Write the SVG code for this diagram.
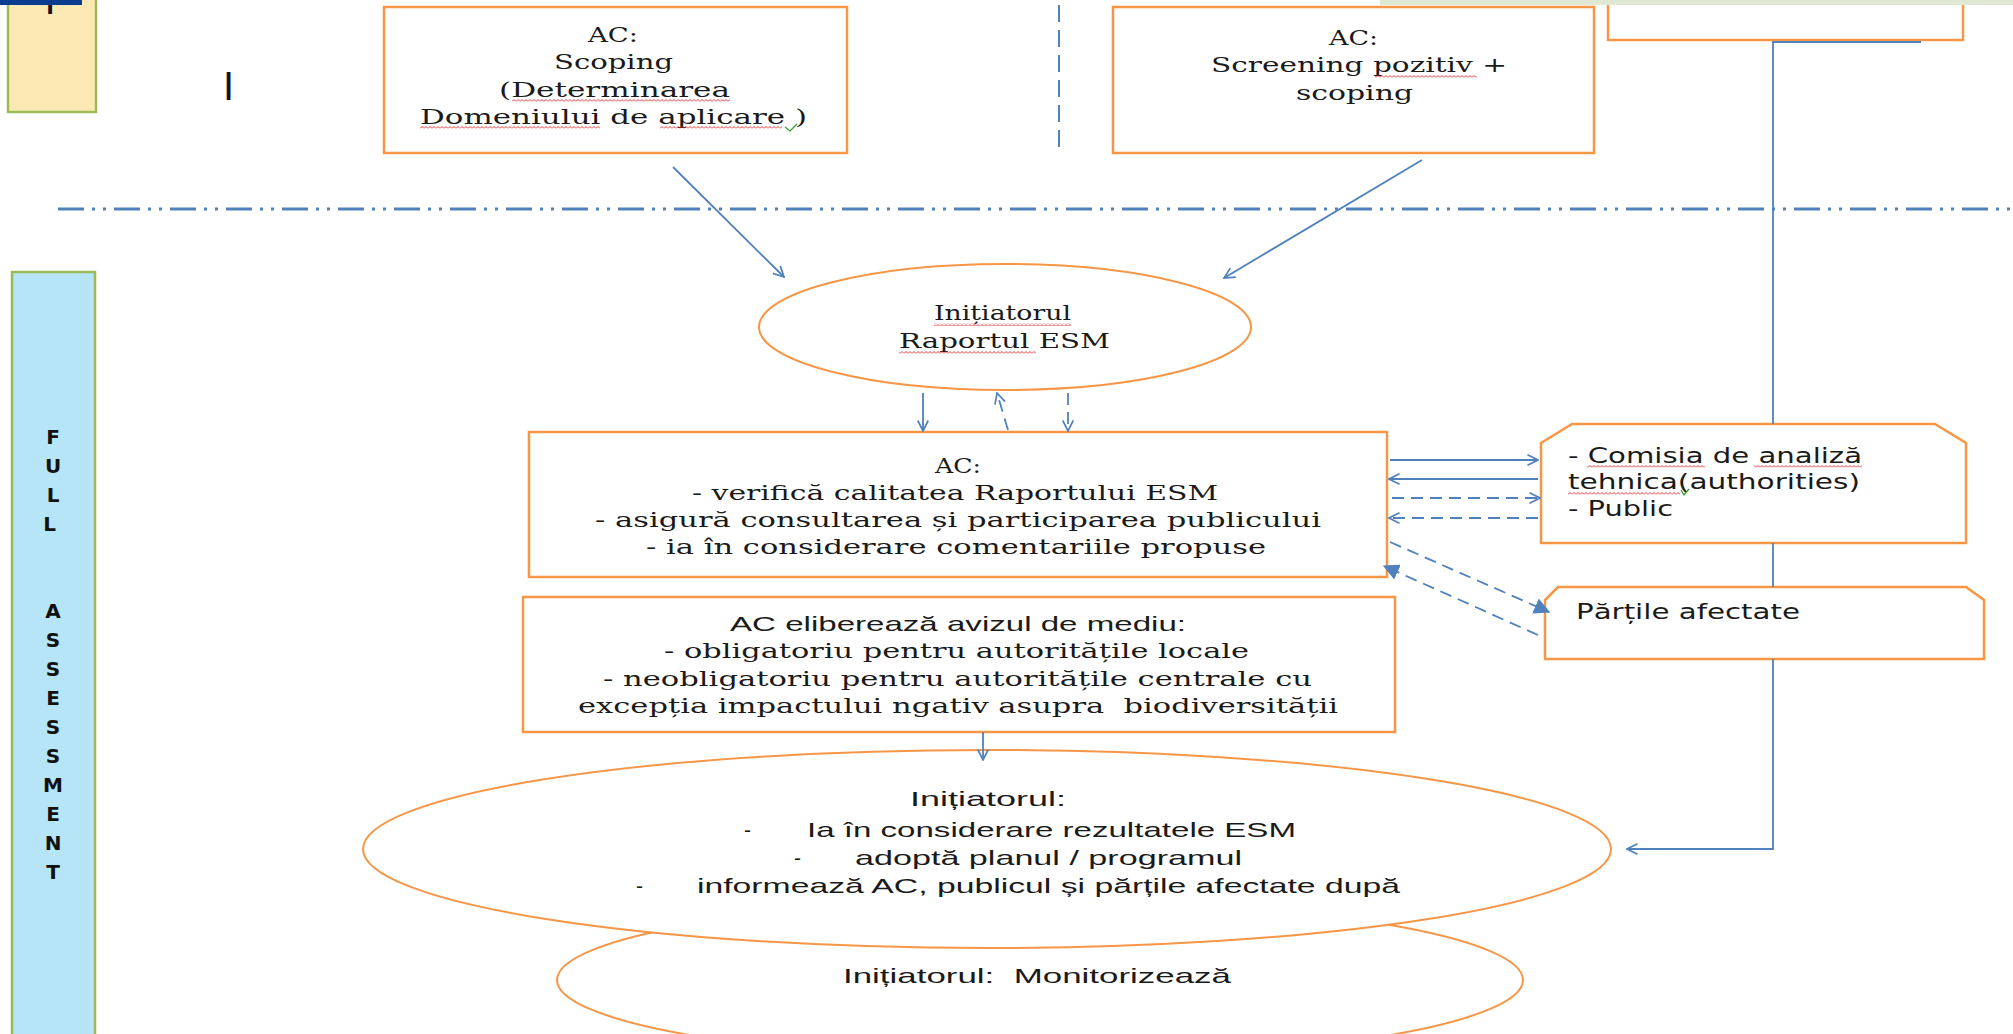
<svg xmlns="http://www.w3.org/2000/svg" width="2013" height="1034" viewBox="0 0 2013 1034">
<style>
.box{fill:#fff;stroke:#f79646;stroke-width:2.5}
.ell{fill:#fff;stroke:#f79646;stroke-width:2}
.ser{font-family:"DejaVu Serif","Liberation Serif",serif;font-size:21px;fill:#1a1a1a}
.sans{font-family:"Liberation Sans",Arial,sans-serif;font-size:21px;fill:#1a1a1a}
.ver{font-family:"DejaVu Sans",Verdana,sans-serif;font-size:21px;fill:#1a1a1a}
.side{font-family:"DejaVu Sans",Verdana,sans-serif;font-size:20px;font-weight:bold;fill:#111;text-anchor:middle}
.c{stroke:#4f81bd;stroke-width:1.8;fill:none}
.d{stroke-dasharray:12 7}
.sq{fill:url(#sq)}
.pre{white-space:pre}
</style>
<defs>
<marker id="open" viewBox="0 0 12 12" refX="11" refY="6" markerWidth="7" markerHeight="7" orient="auto" markerUnits="strokeWidth">
<path d="M1,1 L11,6 L1,11" fill="none" stroke="#4f81bd" stroke-width="1.6"/>
</marker>
<marker id="fill" viewBox="0 0 12 12" refX="11" refY="6" markerWidth="9" markerHeight="9" orient="auto" markerUnits="strokeWidth">
<path d="M0,0 L12,6 L0,12 Z" fill="#4f81bd"/>
</marker>
<pattern id="sq" width="4" height="3" patternUnits="userSpaceOnUse">
<path d="M0,2.5 L2,0.5 L4,2.5" fill="none" stroke="#e02020" stroke-width="0.9"/>
</pattern>
</defs>
<rect width="2013" height="1034" fill="#fff"/>

<!-- background decorations -->
<rect x="1380" y="0" width="633" height="5" fill="#dfe8d2"/>
<line x1="58" y1="209" x2="2013" y2="209" stroke="#4f81bd" stroke-width="3" stroke-dasharray="26 8 3 8 3 8"/>
<line x1="1059" y1="5" x2="1059" y2="150" stroke="#4f81bd" stroke-width="2" stroke-dasharray="17 8"/>

<g id="phase-top">
<rect x="8" y="-5" width="88" height="117" fill="#fde9b3" stroke="#9bbb59" stroke-width="2.5"/>
<text x="50" y="14" class="side" font-size="16">T</text>
<rect x="0" y="0" width="82" height="5" fill="#0b3d91"/>
</g>
<text x="228.5" y="100" font-family="Liberation Sans, Arial, sans-serif" font-size="40" text-anchor="middle" fill="#111">I</text>

<g id="phase-full">
<rect x="12" y="272" width="83" height="770" fill="#b5e5f7" stroke="#9bbb59" stroke-width="2.5"/>
<text class="side">
<tspan x="53" y="444">F</tspan><tspan x="53" y="473">U</tspan><tspan x="53" y="502">L</tspan><tspan x="53" y="531">L</tspan>
<tspan x="53" y="618">A</tspan><tspan x="53" y="647">S</tspan><tspan x="53" y="676">S</tspan><tspan x="53" y="705">E</tspan><tspan x="53" y="734">S</tspan><tspan x="53" y="763">S</tspan><tspan x="53" y="792">M</tspan><tspan x="53" y="821">E</tspan><tspan x="53" y="850">N</tspan><tspan x="53" y="879">T</tspan>
</text>
</g>

<g id="scoping">
<rect class="box" x="384" y="7" width="463" height="146"/>
<text class="ser" x="588" y="42" textLength="50" lengthAdjust="spacingAndGlyphs">AC:</text>
<text class="ser" x="554" y="69" textLength="119" lengthAdjust="spacingAndGlyphs">Scoping</text>
<text class="ser" x="499" y="97" textLength="231" lengthAdjust="spacingAndGlyphs">(Determinarea</text>
<text class="ser" x="420" y="124" textLength="387" lengthAdjust="spacingAndGlyphs">Domeniului de aplicare )</text>
<rect class="sq" x="512" y="99" width="218" height="3"/>
<rect class="sq" x="420" y="126" width="180" height="3"/>
<rect class="sq" x="660" y="126" width="122" height="3"/>
<path d="M785,127 L790,131 L797,124" fill="none" stroke="#2a9a2a" stroke-width="1.2"/>
</g>

<g id="screening">
<rect class="box" x="1113" y="7" width="481" height="146"/>
<text class="ser" x="1329" y="45" textLength="49" lengthAdjust="spacingAndGlyphs">AC:</text>
<text class="ser" x="1211" y="72" textLength="296" lengthAdjust="spacingAndGlyphs">Screening pozitiv +</text>
<text class="ser" x="1296" y="100" textLength="117" lengthAdjust="spacingAndGlyphs">scoping</text>
<rect class="sq" x="1375" y="75" width="102" height="3"/>
</g>

<g id="top-right">
<rect class="box" x="1608" y="-5" width="355" height="45"/>
</g>
<rect x="1600" y="0" width="413" height="5" fill="#dfe8d2"/>

<g id="initiator-raport">
<ellipse class="ell" cx="1005" cy="327" rx="246" ry="63"/>
<text class="ser" x="934" y="320" textLength="137" lengthAdjust="spacingAndGlyphs">Inițiatorul</text>
<text class="ser" x="899" y="348" textLength="211" lengthAdjust="spacingAndGlyphs">Raportul ESM</text>
<rect class="sq" x="934" y="323" width="137" height="3"/>
<rect class="sq" x="899" y="351" width="137" height="3"/>
</g>

<g id="ac-verifica">
<rect class="box" x="529" y="432" width="858" height="145"/>
<text class="ser" x="935" y="473" textLength="46" lengthAdjust="spacingAndGlyphs">AC:</text>
<text class="ser" x="692" y="500" textLength="526" lengthAdjust="spacingAndGlyphs">- verifică calitatea Raportului ESM</text>
<text class="ser" x="595" y="527" textLength="726" lengthAdjust="spacingAndGlyphs">- asigură consultarea și participarea publicului</text>
<text class="ser" x="646" y="554" textLength="620" lengthAdjust="spacingAndGlyphs">- ia în considerare comentariile propuse</text>
</g>

<g id="ac-aviz">
<rect class="box" x="523" y="597" width="872" height="135"/>
<text class="sans" x="730" y="631" textLength="456" lengthAdjust="spacingAndGlyphs">AC eliberează avizul de mediu:</text>
<text class="ser" x="664" y="658" textLength="585" lengthAdjust="spacingAndGlyphs">- obligatoriu pentru autoritățile locale</text>
<text class="ser" x="603" y="686" textLength="709" lengthAdjust="spacingAndGlyphs">- neobligatoriu pentru autoritățile centrale cu</text>
<text class="ser pre" x="578" y="713" textLength="760" lengthAdjust="spacingAndGlyphs">excepția impactului ngativ asupra  biodiversității</text>
</g>

<g id="comisia">
<path class="box" d="M1541,443 L1572,424 L1935,424 L1966,443 L1966,543 L1541,543 Z"/>
<text class="ver" x="1568" y="463" textLength="294" lengthAdjust="spacingAndGlyphs">- Comisia de analiză</text>
<text class="ver" x="1568" y="489" textLength="292" lengthAdjust="spacingAndGlyphs">tehnica(authorities)</text>
<text class="ver" x="1568" y="516" textLength="105" lengthAdjust="spacingAndGlyphs">- Public</text>
<rect class="sq" x="1587" y="465" width="118" height="3"/>
<rect class="sq" x="1754" y="465" width="108" height="3"/>
<rect class="sq" x="1568" y="492" width="112" height="3"/>
<path d="M1681,490 L1684,495 L1689,489" fill="none" stroke="#2a9a2a" stroke-width="1.2"/>
</g>

<g id="partile">
<path class="box" d="M1545,600 L1558,587 L1966,587 L1984,600 L1984,659 L1545,659 Z"/>
<text class="ver" x="1576" y="619" textLength="224" lengthAdjust="spacingAndGlyphs">Părțile afectate</text>
</g>

<g id="monitorizeaza">
<ellipse class="ell" cx="1040" cy="980" rx="483" ry="80"/>
<text class="sans pre" x="843" y="983" textLength="388" lengthAdjust="spacingAndGlyphs">Inițiatorul:  Monitorizează</text>
</g>

<g id="initiator-adopta">
<ellipse class="ell" cx="987" cy="849" rx="624" ry="99"/>
<text class="sans" x="910" y="806" textLength="156" lengthAdjust="spacingAndGlyphs">Inițiatorul:</text>
<text class="sans" x="744" y="837">-</text>
<text class="sans" x="807" y="837" textLength="489" lengthAdjust="spacingAndGlyphs">Ia în considerare rezultatele ESM</text>
<text class="sans" x="794" y="865">-</text>
<text class="sans" x="855" y="865" textLength="387" lengthAdjust="spacingAndGlyphs">adoptă planul / programul</text>
<text class="sans" x="636" y="893">-</text>
<text class="sans" x="697" y="893" textLength="703" lengthAdjust="spacingAndGlyphs">informează AC, publicul și părțile afectate după</text>
</g>

<g id="connectors">
<line class="c" x1="673" y1="167" x2="784" y2="277" marker-end="url(#open)"/>
<line class="c" x1="1422" y1="160" x2="1224" y2="278" marker-end="url(#open)"/>
<line class="c" x1="923" y1="393" x2="923" y2="431" marker-end="url(#open)"/>
<line class="c d" x1="1008" y1="430" x2="997" y2="393" marker-end="url(#open)"/>
<line class="c d" x1="1068" y1="393" x2="1068" y2="431" marker-end="url(#open)"/>
<line class="c" x1="1390" y1="460" x2="1538" y2="460" marker-end="url(#open)"/>
<line class="c" x1="1538" y1="479" x2="1389" y2="479" marker-end="url(#open)"/>
<line class="c d" x1="1392" y1="498" x2="1540" y2="498" marker-end="url(#open)"/>
<line class="c d" x1="1538" y1="518" x2="1389" y2="518" marker-end="url(#open)"/>
<line class="c d" x1="1390" y1="542" x2="1549" y2="612" marker-end="url(#fill)"/>
<line class="c d" x1="1538" y1="635" x2="1384" y2="566" marker-end="url(#fill)"/>
<line class="c" x1="983" y1="732" x2="983" y2="760" marker-end="url(#open)"/>
<polyline class="c" points="1921,42 1773,42 1773,424"/>
<line class="c" x1="1773" y1="543" x2="1773" y2="587"/>
<polyline class="c" points="1773,659 1773,849 1627,849" marker-end="url(#open)"/>
</g>
</svg>
